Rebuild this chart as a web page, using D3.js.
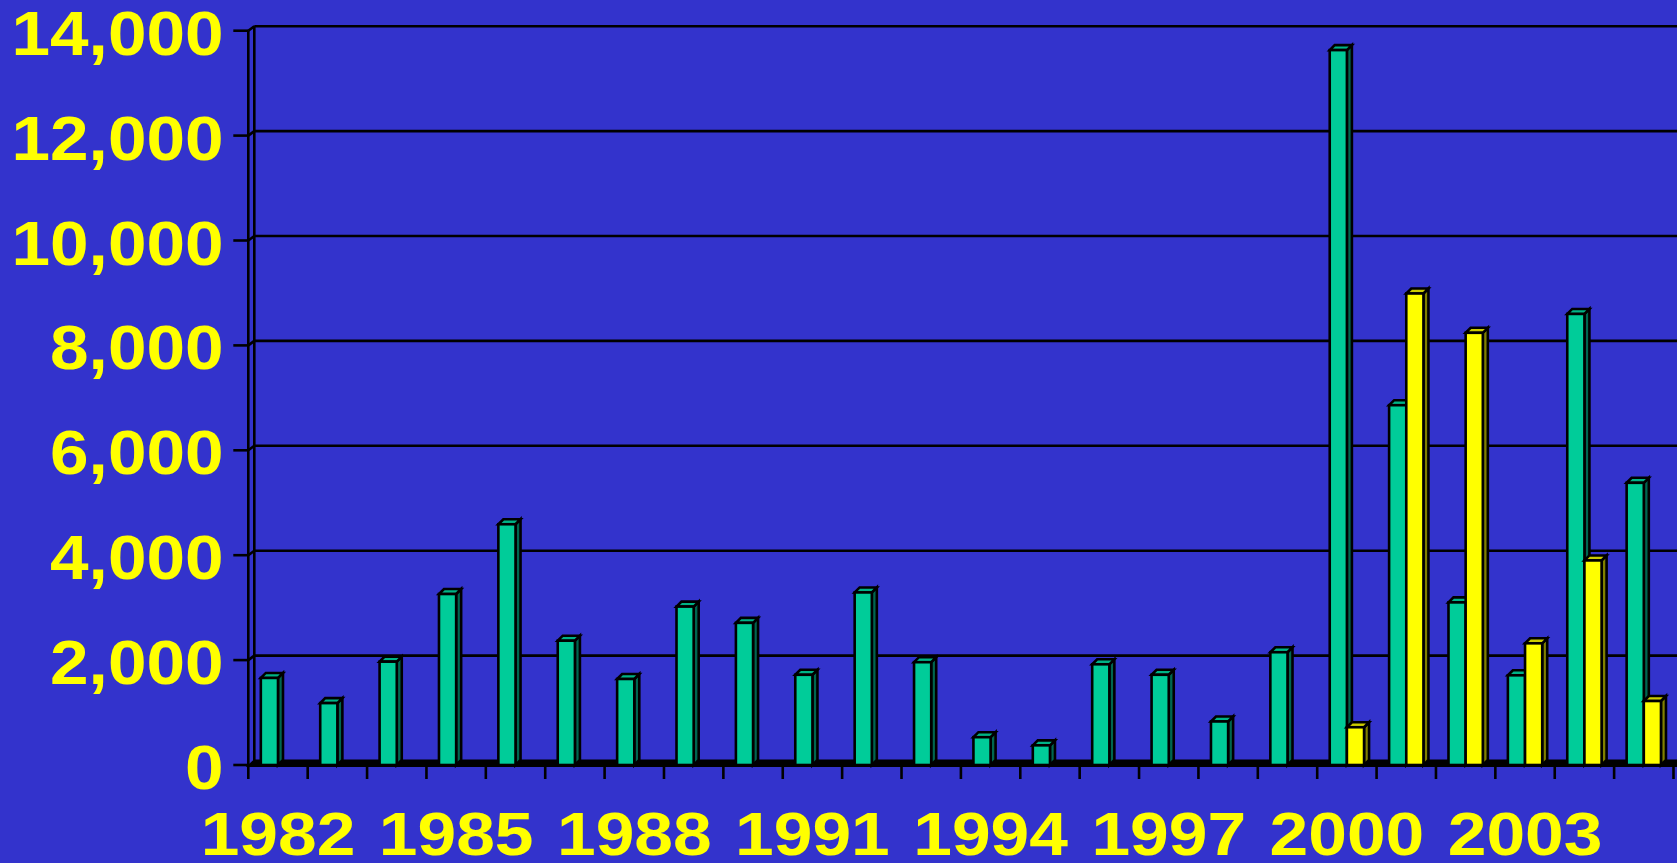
<!DOCTYPE html>
<html>
<head>
<meta charset="utf-8">
<script src="https://cdn.jsdelivr.net/npm/d3@7"></script>
<style>
  html, body { margin: 0; padding: 0; background: #3333CC; overflow: hidden; }
  svg { display: block; }
  text { font-family: Arial, "Liberation Sans", sans-serif; font-weight: bold; fill: #FFFF00; }
</style>
</head>
<body>
<svg id="chart" width="1677" height="863"></svg>
<script>
// Years on the category axis
const years = [1982, 1983, 1984, 1985, 1986, 1987, 1988, 1989, 1990, 1991, 1992, 1993,
               1994, 1995, 1996, 1997, 1998, 1999, 2000, 2001, 2002, 2003, 2004, 2005];
// Green series, one value per year
const greenValues = [1660, 1180, 1970, 3260, 4590, 2370, 1640, 3020, 2710, 1720, 3290, 1960,
                     530, 375, 1920, 1720, 830, 2150, 13630, 6860, 3100, 1710, 8600, 5380];
// Yellow series, only reported from 2000 on
const yellowValues = [null, null, null, null, null, null, null, null, null, null, null, null,
                      null, null, null, null, null, null, 720, 8990, 8240, 2320, 3900, 1220];
// Value axis ticks
const yTickValues = [0, 2000, 4000, 6000, 8000, 10000, 12000, 14000];
// Years that carry a label on the category axis
const xTickLabels = [1982, 1985, 1988, 1991, 1994, 1997, 2000, 2003];

const W = 1677, H = 863;
const svg = d3.select("#chart");

const plotLeft = 248.3, plotRight = 1673.5;
const wallDx = 6, wallDy = -4.5;   // depth of the back wall
const barDx = 5, barDy = -5;       // depth of each column

const x0 = d3.scaleBand().domain(years).range([plotLeft, plotRight]).padding(0);
const x1 = d3.scaleBand().domain(["green", "yellow"]).range([0, x0.bandwidth()])
  .paddingInner(0).paddingOuter(0.73);
const y = d3.scaleLinear().domain([0, 14000]).range([765, 30.7]);

const colors = {
  green:  { front: "#00CC99", side: "#006650", top: "#00B386" },
  yellow: { front: "#FFFF00", side: "#808000", top: "#CCCC00" }
};

// Background
svg.append("rect").attr("width", W).attr("height", H).attr("fill", "#3333CC");

// Back wall gridlines
const grid = svg.append("g").attr("stroke", "#000").attr("stroke-width", 2.6).attr("fill", "none");
yTickValues.filter(v => v > 0).forEach(v => {
  grid.append("line")
    .attr("x1", plotLeft + wallDx).attr("x2", W)
    .attr("y1", y(v) + wallDy).attr("y2", y(v) + wallDy);
  // side wall diagonal
  grid.append("line")
    .attr("x1", plotLeft).attr("y1", y(v))
    .attr("x2", plotLeft + wallDx).attr("y2", y(v) + wallDy);
});
// back wall left edge
grid.append("line")
  .attr("x1", plotLeft + wallDx).attr("x2", plotLeft + wallDx)
  .attr("y1", y(14000) + wallDy).attr("y2", y(0) + wallDy);

// Floor
svg.append("path")
  .attr("d", d3.line()([
    [plotLeft, y(0) + 1], [W, y(0) + 1], [W, y(0) + wallDy], [plotLeft + wallDx, y(0) + wallDy]
  ]) + "Z")
  .attr("fill", "#000").attr("stroke", "#000").attr("stroke-width", 2);

// Front value axis line and ticks
const axis = svg.append("g").attr("stroke", "#000").attr("stroke-width", 2.6);
axis.append("line")
  .attr("x1", plotLeft).attr("x2", plotLeft)
  .attr("y1", y(14000)).attr("y2", y(0));
yTickValues.forEach(v => {
  axis.append("line")
    .attr("x1", plotLeft - 15).attr("x2", plotLeft)
    .attr("y1", y(v)).attr("y2", y(v));
});
// Category ticks at band boundaries
const boundaries = years.map(d => x0(d)).concat([x0(years[years.length - 1]) + x0.bandwidth()]);
boundaries.forEach(bx => {
  axis.append("line")
    .attr("x1", bx).attr("x2", bx)
    .attr("y1", y(0)).attr("y2", y(0) + 14);
});

// 3D columns
function drawColumn(g, xLeft, v, c) {
  const w = x1.bandwidth();
  const yTop = y(v), yBase = y(0);
  const st = { stroke: "#000", "stroke-width": 2.6, "stroke-linejoin": "miter" };
  const apply = sel => { Object.entries(st).forEach(([k, val]) => sel.attr(k, val)); return sel; };
  // side
  apply(g.append("path")
    .attr("d", d3.line()([[xLeft + w, yBase], [xLeft + w, yTop], [xLeft + w + barDx, yTop + barDy],
                          [xLeft + w + barDx, yBase + barDy]]) + "Z")
    .attr("fill", c.side));
  // top
  apply(g.append("path")
    .attr("d", d3.line()([[xLeft, yTop], [xLeft + w, yTop], [xLeft + w + barDx, yTop + barDy],
                          [xLeft + barDx, yTop + barDy]]) + "Z")
    .attr("fill", c.top));
  // front
  apply(g.append("rect")
    .attr("x", xLeft).attr("y", yTop)
    .attr("width", w).attr("height", yBase - yTop)
    .attr("fill", c.front));
}

const bars = svg.append("g");
years.forEach((yr, i) => {
  const g = bars.append("g");
  if (greenValues[i] != null) drawColumn(g, x0(yr) + x1("green"), greenValues[i], colors.green);
  if (yellowValues[i] != null) drawColumn(g, x0(yr) + x1("yellow"), yellowValues[i], colors.yellow);
});

// Value axis labels
const fmt = d3.format(",");
svg.append("g").selectAll("text").data(yTickValues).join("text")
  .attr("text-anchor", "end")
  .attr("font-size", 63)
  .attr("transform", d => `translate(223.5, ${y(d) + 24}) scale(1.1, 1)`)
  .text(d => fmt(d));

// Category axis labels
svg.append("g").selectAll("text").data(xTickLabels).join("text")
  .attr("text-anchor", "middle")
  .attr("font-size", 61)
  .attr("transform", d => `translate(${x0(d) + x0.bandwidth() / 2}, 855) scale(1.14, 1)`)
  .text(d => d);
</script>
</body>
</html>
